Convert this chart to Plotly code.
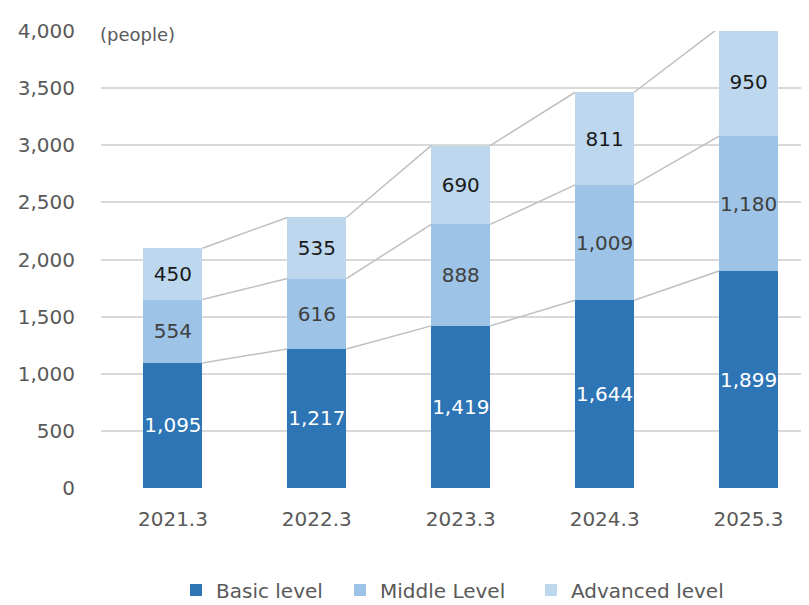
import plotly.graph_objects as go

categories = ["2021.3", "2022.3", "2023.3", "2024.3", "2025.3"]
basic = [1095, 1217, 1419, 1644, 1899]
middle = [554, 616, 888, 1009, 1180]
advanced = [450, 535, 690, 811, 950]
y_ticks = [0, 500, 1000, 1500, 2000, 2500, 3000, 3500, 4000]

series = [
    ("Basic level", basic, "#2E75B6", "#FFFFFF", "legend"),
    ("Middle Level", middle, "#9DC3E6", "#404040", "legend2"),
    ("Advanced level", advanced, "#BDD7EE", "#1a1a1a", "legend3"),
]

FONT = "DejaVu Sans"
BAR_W = 0.41
xs = list(range(len(categories)))

fig = go.Figure()

# series connector lines (cumulative tops)
cum = [0] * len(categories)
for name, vals, color, tcolor, lg in series:
    cum = [c + v for c, v in zip(cum, vals)]
    for i in range(len(categories) - 1):
        fig.add_trace(go.Scatter(
            x=[xs[i] + BAR_W / 2, xs[i + 1] - BAR_W / 2],
            y=[cum[i], cum[i + 1]],
            mode="lines",
            line=dict(color="#BFBFBF", width=1.5),
            showlegend=False,
            hoverinfo="skip",
        ))

for name, vals, color, tcolor, lg in series:
    fig.add_trace(go.Bar(
        x=xs, y=vals, name=name, width=BAR_W, legend=lg,
        marker=dict(color=color, line=dict(width=0)),
        text=[f"{v:,}" for v in vals],
        textposition="inside",
        insidetextanchor="middle",
        constraintext="none",
        textangle=0,
        textfont=dict(family=FONT, size=20, color=tcolor),
    ))

# page body has an 8px margin; figure coords = viewport coords - 8
OFF = 8
W, H = 809 - OFF, 605 - OFF
PLOT_L, PLOT_R, PLOT_T, PLOT_B = 101 - OFF, 809 - OFF, 31 - OFF, 488 - OFF
pw = PLOT_R - PLOT_L
ph = PLOT_B - PLOT_T

def px_x(p):
    return (p - OFF - PLOT_L) / pw

leg_y = (PLOT_B - (590 - OFF)) / ph
leg_common = dict(orientation="h", yanchor="middle", y=leg_y, xanchor="left",
                  font=dict(family=FONT, size=20, color="#595959"),
                  bgcolor="rgba(0,0,0,0)")

fig.update_layout(
    barmode="stack",
    width=W, height=H,
    margin=dict(l=PLOT_L, r=W - PLOT_R, t=PLOT_T, b=H - PLOT_B, autoexpand=False),
    plot_bgcolor="white", paper_bgcolor="white",
    font=dict(family=FONT, color="#595959"),
    xaxis=dict(
        range=[-0.5, 4.42], automargin=False,
        tickmode="array", tickvals=xs, ticktext=categories,
        tickfont=dict(family=FONT, size=20, color="#595959"),
        showgrid=False, zeroline=False, showline=False,
        ticks="", ticklabelstandoff=17,
    ),
    yaxis=dict(
        range=[0, 4000], automargin=False,
        tickmode="array", tickvals=y_ticks,
        ticktext=[f"{v:,}" for v in y_ticks],
        tickfont=dict(family=FONT, size=20, color="#595959"),
        showgrid=True, gridcolor="#D9D9D9", gridwidth=1.5,
        zeroline=False, showline=False, ticks="",
        ticklabelstandoff=25,
    ),
    legend=dict(x=px_x(176), **leg_common),
    legend2=dict(x=px_x(340), **leg_common),
    legend3=dict(x=px_x(531), **leg_common),
    annotations=[dict(
        text="(people)", x=0, xref="paper", xanchor="left", xshift=-3,
        y=4000, yref="y", yanchor="middle", yshift=-3,
        showarrow=False, bgcolor="white",
        font=dict(family=FONT, size=18, color="#595959"),
    )],
)

fig.write_html("out.html")
